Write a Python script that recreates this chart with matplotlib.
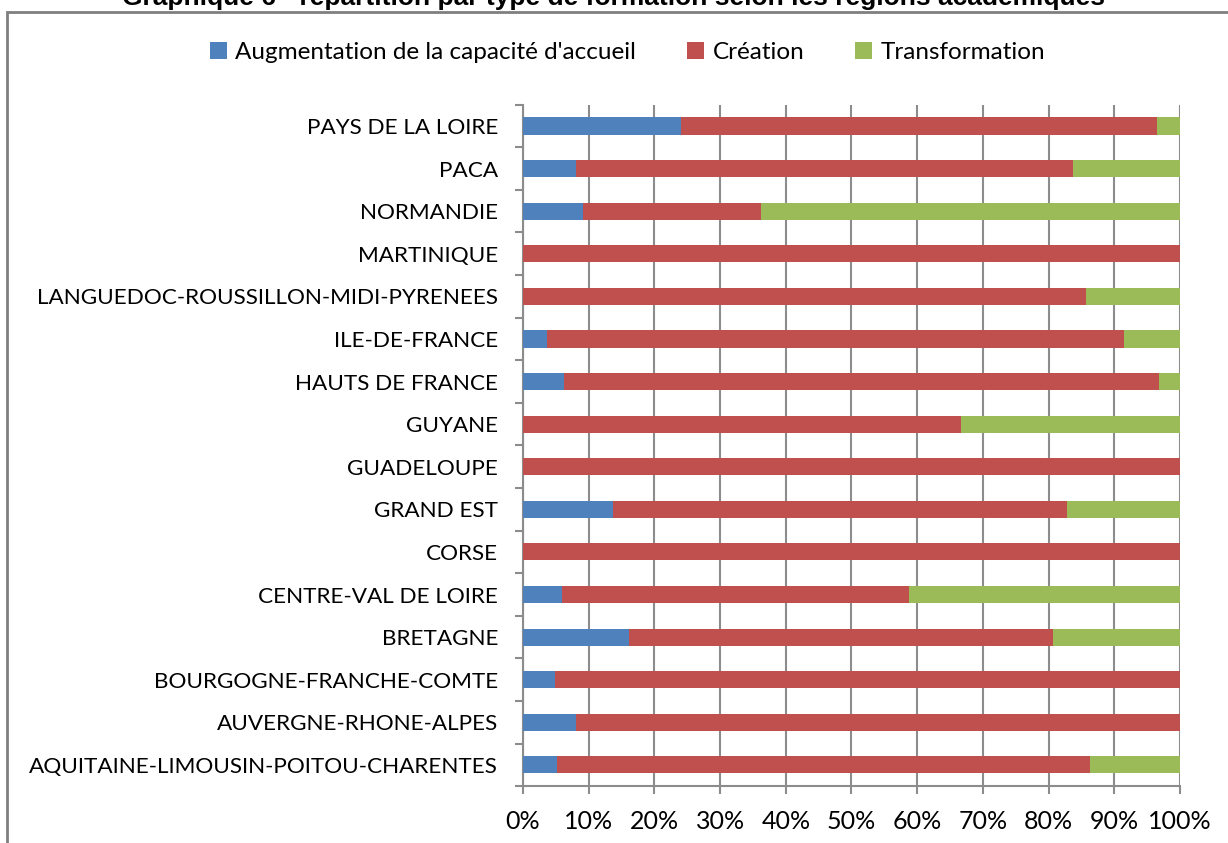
import matplotlib.pyplot as plt
from matplotlib.patches import Rectangle
from matplotlib.ticker import MultipleLocator, PercentFormatter

# regions listed bottom to top, as drawn on the y axis
regions = [
    "AQUITAINE-LIMOUSIN-POITOU-CHARENTES",
    "AUVERGNE-RHONE-ALPES",
    "BOURGOGNE-FRANCHE-COMTE",
    "BRETAGNE",
    "CENTRE-VAL DE LOIRE",
    "CORSE",
    "GRAND EST",
    "GUADELOUPE",
    "GUYANE",
    "HAUTS DE FRANCE",
    "ILE-DE-FRANCE",
    "LANGUEDOC-ROUSSILLON-MIDI-PYRENEES",
    "MARTINIQUE",
    "NORMANDIE",
    "PACA",
    "PAYS DE LA LOIRE",
]

# shares in percent
augmentation = [5.2, 8.1, 4.9, 16.1, 5.9, 0.0, 13.7, 0.0, 0.0, 6.2, 3.7, 0.0, 0.0, 9.1, 8.1, 24.0]
creation = [81.1, 91.9, 95.1, 64.6, 52.9, 100.0, 69.1, 100.0, 66.7, 90.6, 87.8, 85.7, 100.0, 27.1, 75.6, 72.5]
transformation = [13.7, 0.0, 0.0, 19.3, 41.2, 0.0, 17.2, 0.0, 33.3, 3.2, 8.5, 14.3, 0.0, 63.8, 16.3, 3.5]

series_names = ["Augmentation de la capacité d'accueil", "Création", "Transformation"]
colors = ["#4F81BD", "#C0504D", "#9BBB59"]
title = "Graphique 6 - répartition par type de formation selon les régions académiques"

plt.rcParams["font.family"] = ["Lato", "DejaVu Sans"]

fig = plt.figure(figsize=(12.28, 8.43), dpi=100)
ax = fig.add_axes([0.4259, 0.0673, 0.535, 0.8085])

y = list(range(len(regions)))
left = [0.0] * len(regions)
for values, name, color in zip([augmentation, creation, transformation], series_names, colors):
    ax.barh(y, values, left=left, height=0.4, color=color, label=name, zorder=3)
    left = [a + b for a, b in zip(left, values)]

ax.set_xlim(0, 100)
ax.set_ylim(-0.5, len(regions) - 0.5)
ax.xaxis.set_major_locator(MultipleLocator(10))
ax.xaxis.set_major_formatter(PercentFormatter(decimals=0))
ax.set_yticks(y)
ax.set_yticklabels(regions)
ax.set_yticks([i - 0.5 for i in range(len(regions) + 1)], minor=True)

grid_color = "#8C8C8C"
ax.grid(axis="x", color=grid_color, linewidth=1.5, zorder=0)
for side in ["top", "right"]:
    ax.spines[side].set_visible(False)
for side in ["left", "bottom"]:
    ax.spines[side].set_color(grid_color)
    ax.spines[side].set_linewidth(1.5)

ax.tick_params(axis="y", which="major", length=0, pad=18, labelsize=16.2)
ax.tick_params(axis="y", which="minor", length=6, width=1.5, color=grid_color)
ax.tick_params(axis="x", length=6, width=1.5, color=grid_color, pad=11, labelsize=18)

handles, labels = ax.get_legend_handles_labels()
fig.legend(handles, labels, loc="center", bbox_to_anchor=(0.511, 0.938), ncol=3,
           frameon=False, fontsize=17.5, handlelength=0.7, handleheight=0.7,
           handletextpad=0.35, columnspacing=2.1)

# outer chart frame (only left and top edges are visible in the crop)
fig.patches.append(Rectangle((7 / 1228, -0.1), 1.2, 1.1 - 12 / 843,
                             transform=fig.transFigure, fill=False,
                             edgecolor="#7F7F7F", linewidth=2))

fig.text(0.5, 1 - 5 / 843, title, ha="center", va="baseline", fontsize=19,
         fontweight="bold", family=["Liberation Sans", "DejaVu Sans"])

fig.savefig("out.png", dpi=100)
